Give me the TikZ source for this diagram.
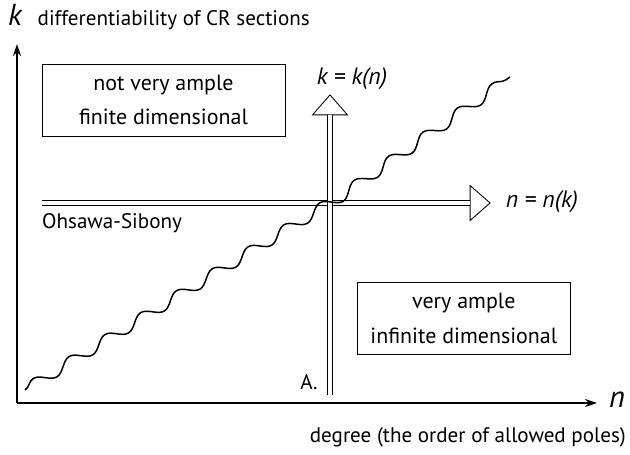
\documentclass[tikz,border=0pt]{standalone}
\usepackage{fontspec}
\setmainfont{PT Sans}
\usetikzlibrary{arrows.meta,positioning,shapes.geometric,decorations.pathmorphing}

\begin{document}
\begin{tikzpicture}[
    x=0.02cm, y=-0.02cm,
    region/.style={draw,line width=0.5pt,align=center,inner ysep=0pt,inner xsep=0.26cm,
        font=\fontsize{12.5}{15}\selectfont,minimum height=1.44cm},
    lbl/.style={font=\large},
    var/.style={font=\LARGE\itshape},
    fun/.style={font=\fontsize{13.5}{16}\selectfont\itshape},
    axis/.style={line width=1.1pt,-{Stealth[length=2.4mm,width=1.6mm]}},
    shaft/.style={double,double distance=0.07cm,line width=0.45pt},
    head/.style={isosceles triangle,draw,fill=white,line width=0.5pt,inner sep=0pt,
        isosceles triangle stretches,minimum width=0.7cm,minimum height=0.4cm},
    wave/.style={line width=0.85pt,decorate,
        decoration={snake,amplitude=0.11cm,segment length=0.84cm}}
]
    \useasboundingbox (0,0) rectangle (630,455);

    % Axes
    \coordinate (O) at (17,403);
    \coordinate (ktop) at (17,44);
    \coordinate (nend) at (597,403);
    \draw[axis] (O) -- (ktop);
    \draw[axis] (O) -- (nend);
    \node[var] (kvar) at (15,15) {k};
    \node[lbl,anchor=base west] (klbl) at ([xshift=2pt]kvar.base east) {differentiability of CR sections};
    \node[var] (nvar) at (617,400) {n};
    \node[lbl,anchor=east] (nlbl) at (632,437) {degree (the order of allowed poles)};

    % Regions
    \node[region,minimum width=4.86cm] (fin) at (163.5,100)
        {not very ample\\[4.5pt]finite dimensional};
    \node[region,anchor=west] (inf) at (357,318.5)
        {very ample\\[4.5pt]infinite dimensional};

    % Double arrows
    \node[head] (nhead) at (478,203) {};
    \node[head,rotate=90] (khead) at (330,107) {};
    \coordinate (nstart) at (42,203);
    \coordinate (kstart) at (330,395);
    \draw[shaft] (nstart) -- (nhead.lower side);
    \draw[shaft] (kstart) -- (khead.lower side);
    \node[fun] (nfun) at (542,202) {n = n(k)};
    \node[fun] (kfun) at (352,79) {k = k(n)};
    \node[lbl,anchor=west] (os) at (36,223) {Ohsawa-Sibony};
    \node[lbl] (apt) at (309,382) {A.};

    % Wave through the crossing
    \coordinate (wstart) at (25,390);
    \coordinate (wcross) at (330,203);
    \coordinate (wend) at (510,77);
    \draw[wave] (wstart) -- (wcross) -- (wend);
\end{tikzpicture}
\end{document}
